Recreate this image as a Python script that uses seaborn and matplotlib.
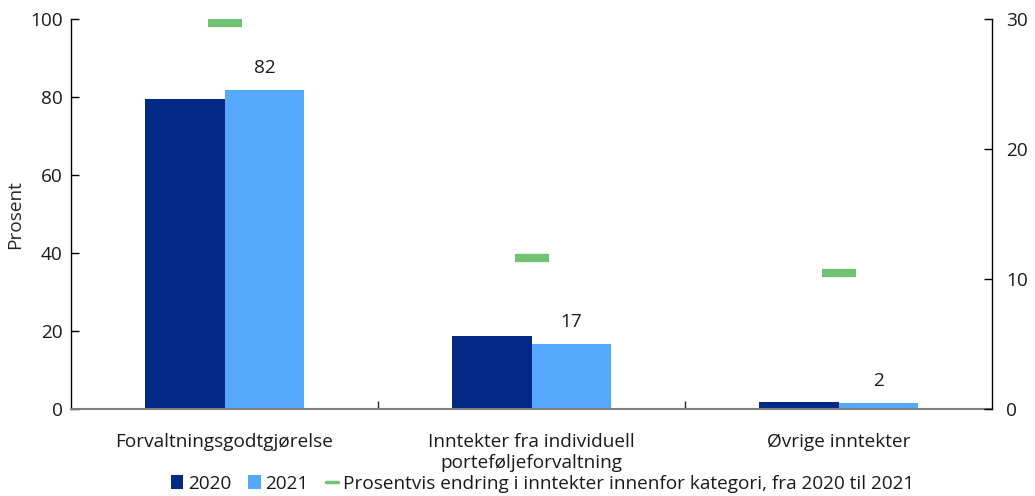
import matplotlib
matplotlib.use("Agg")
import matplotlib.pyplot as plt
from matplotlib.patches import Patch
from matplotlib.lines import Line2D
import seaborn as sns
import pandas as pd

# Category labels and values
kategorier = ["Forvaltningsgodtgjørelse",
              "Inntekter fra individuell\nporteføljeforvaltning",
              "Øvrige inntekter"]
andel_2020 = [79.6, 18.8, 1.8]
andel_2021 = [81.9, 16.7, 1.6]
endring = [29.7, 11.6, 10.5]  # percent change 2020 -> 2021 (right axis)

farge_2020 = "#022A85"
farge_2021 = "#56A8FF"
farge_endring = "#72C276"

FS = 13.7

sns.set_theme(style="white")
plt.rcParams["font.family"] = ["Open Sans", "DejaVu Sans"]
plt.rcParams["font.size"] = FS

df = pd.DataFrame({
    "kategori": kategorier * 2,
    "andel": andel_2020 + andel_2021,
    "år": ["2020"] * 3 + ["2021"] * 3,
})

fig = plt.figure(figsize=(10.35, 4.96), dpi=100)
ax = fig.add_axes([0.0686, 0.175, 0.8899, 0.786])

sns.barplot(data=df, x="kategori", y="andel", hue="år",
            palette=[farge_2020, farge_2021], saturation=1, width=0.52,
            linewidth=0, legend=False, ax=ax)

# Value labels above the 2021 bars
for i, v in enumerate(andel_2021):
    ax.annotate(f"{v:.0f}", xy=(i + 0.13, v), xytext=(0, 9.5),
                textcoords="offset points", ha="center", va="bottom",
                fontsize=FS, color="#1a1a1a")

ax.set_xlim(-0.5, 2.5)
ax.set_ylim(0, 100)
ax.set_yticks([0, 20, 40, 60, 80, 100])
ax.set_ylabel("Prosent", fontsize=FS, labelpad=4)
ax.set_xlabel("")
ax.set_xticks([0, 1, 2], kategorier)
ax.set_xticks([0.5, 1.5], minor=True)
ax.tick_params(axis="x", which="major", length=0, pad=17, labelsize=FS,
               labelcolor="#1a1a1a")
ax.tick_params(axis="x", which="minor", length=6, direction="in",
               color="#222222", width=1, bottom=True)
ax.tick_params(axis="y", length=6, direction="in", color="black",
               width=1, left=True, labelsize=FS, pad=6, labelcolor="#1a1a1a")

for s in ["top", "right"]:
    ax.spines[s].set_visible(False)
ax.spines["left"].set_color("black")
ax.spines["left"].set_linewidth(1)
ax.spines["bottom"].set_color("#808080")
ax.spines["bottom"].set_linewidth(1.5)

# Right axis with percent change markers
ax2 = ax.twinx()
ax2.plot(range(len(endring)), endring, ls="none", marker="_",
         ms=25, mew=6, color=farge_endring)
ax2.set_ylim(0, 30)
ax2.set_yticks([0, 10, 20, 30])
ax2.tick_params(axis="y", length=6, direction="in", color="black",
                width=1, right=True, labelsize=FS, pad=10, labelcolor="#1a1a1a")
for s in ["top", "left", "bottom"]:
    ax2.spines[s].set_visible(False)
ax2.spines["right"].set_color("black")
ax2.spines["right"].set_linewidth(1)
ax2.grid(False)
ax.grid(False)

handles = [
    Patch(facecolor=farge_2020, edgecolor="none", label="2020"),
    Patch(facecolor=farge_2021, edgecolor="none", label="2021"),
    Line2D([0], [0], color=farge_endring, lw=2.5,
           label="Prosentvis endring i inntekter innenfor kategori, fra 2020 til 2021"),
]
fig.legend(handles=handles, loc="center", bbox_to_anchor=(0.524, 0.024),
           ncol=3, frameon=False, fontsize=FS, handlelength=0.65,
           handleheight=0.75, handletextpad=0.25, columnspacing=0.9,
           borderpad=0, borderaxespad=0, labelcolor="#1a1a1a")

fig.savefig("out.png", dpi=100)
